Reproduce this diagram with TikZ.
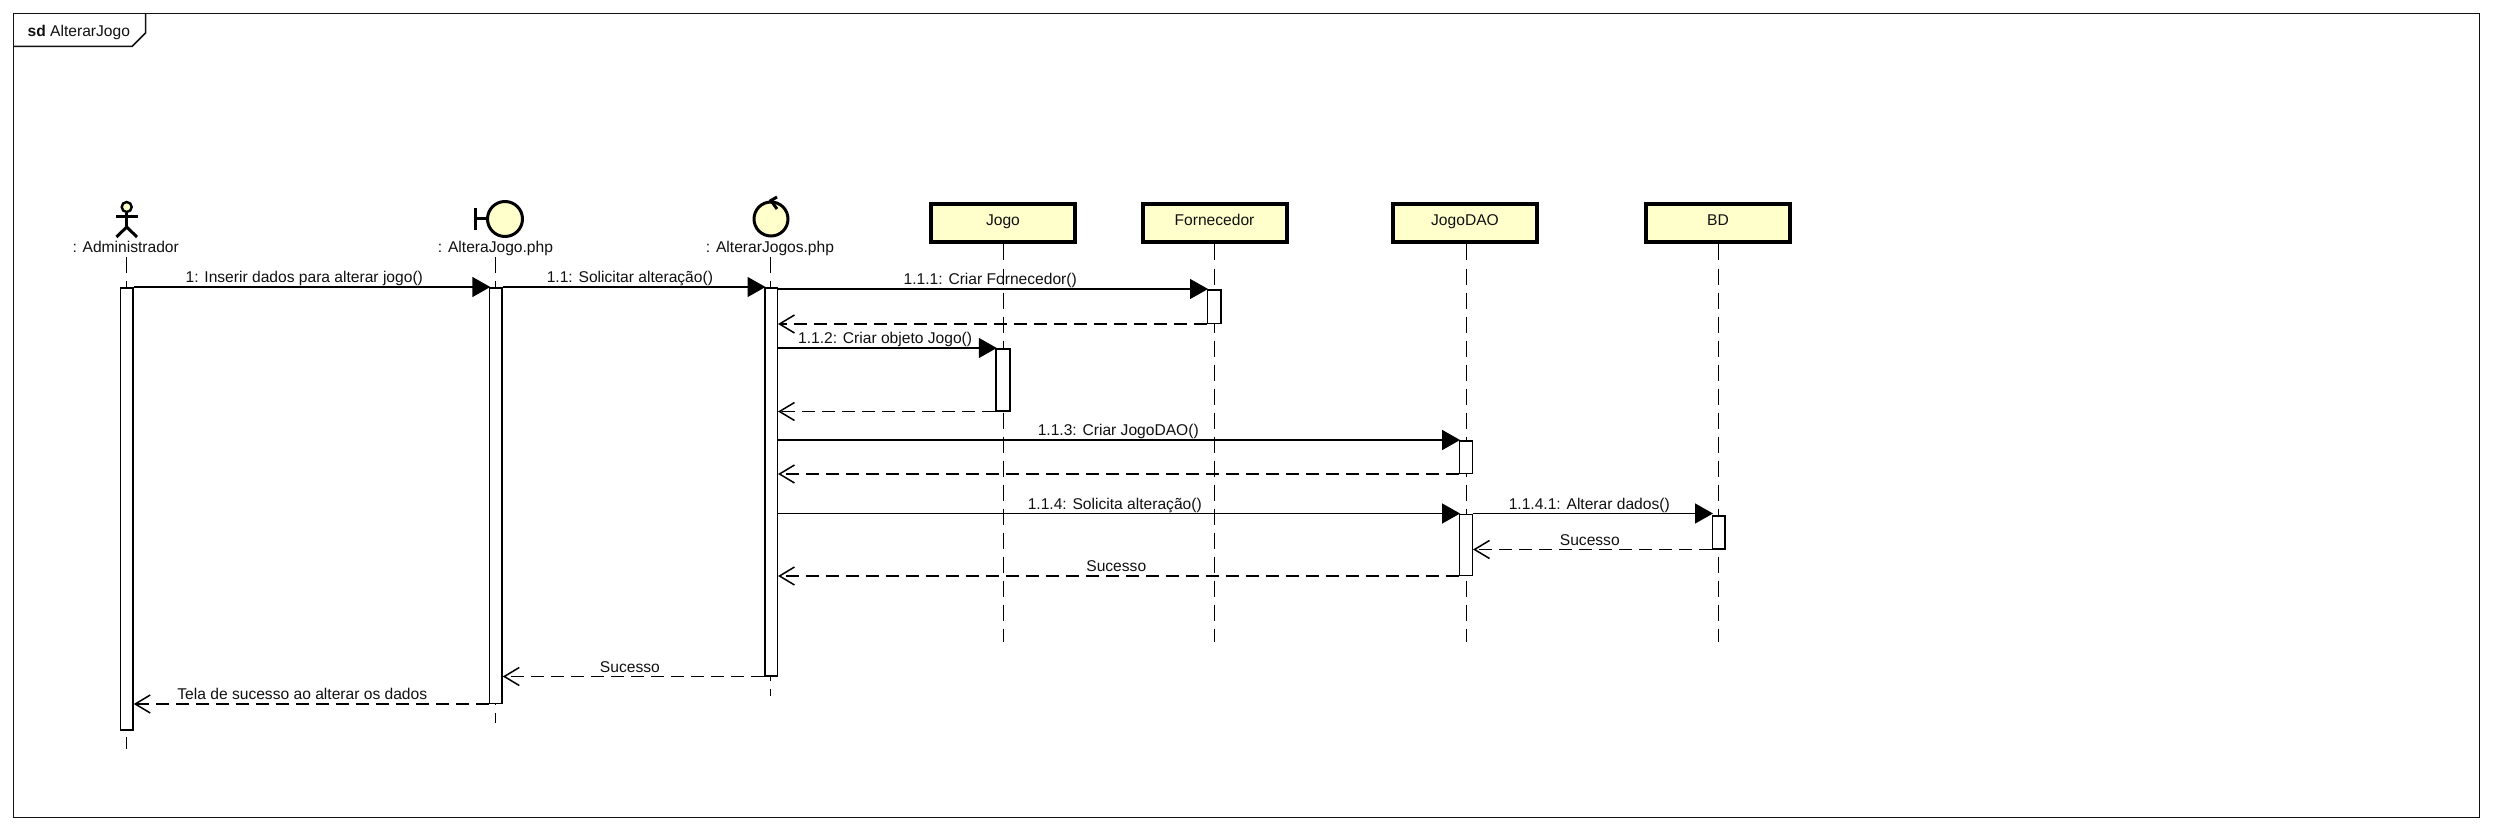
\documentclass[tikz,border=0pt]{standalone}
\usepackage{fontspec}
\setmainfont{Liberation Sans}
\usetikzlibrary{arrows.meta}
\definecolor{umlfill}{HTML}{FFFFCC}
\definecolor{ink}{HTML}{111111}
\tikzset{
  txt/.style={font=\fontsize{15.6pt}{18pt}\selectfont,text=ink,inner sep=0pt},
  objbox/.style={draw=black,line width=4pt,fill=umlfill,minimum width=144pt,minimum height=38pt,inner sep=0pt,txt,text height=10pt,text depth=6pt},
  actlabel/.style={txt,anchor=base,text height=11pt,text depth=4pt},
  lifeline/.style={draw=black,line width=1.5pt,dash pattern=on 16pt off 8pt},
  activation/.style={draw=black,line width=1.5pt,fill=white,minimum width=12.5pt,inner sep=0pt,anchor=north},
  call/.style={draw=black,line width=1.5pt,shorten >=-1.5pt,-{Triangle[length=18pt,width=20pt,fill=black]}},
  reply/.style={draw=black,line width=1.5pt,dash pattern=on 13pt off 7pt,-{Straight Barb[length=15pt,width=18pt,line width=1.5pt]}},
  msg/.style={txt,anchor=base,yshift=4.5pt},
  icon/.style={draw=black,line width=3pt,fill=umlfill,circle,inner sep=0pt},
  stick/.style={draw=black,line width=3pt}
}
\begin{document}
\begin{tikzpicture}[x=1pt,y=-1pt]
\useasboundingbox (0,0) rectangle (2493,829);
\fill[white] (0,0) rectangle (2493,829);
% frame
\draw[line width=1.5pt,draw=ink] (13.5,13.5) rectangle (2479.5,817.5);
\draw[line width=1.5pt,draw=ink] (13.5,46.5) -- (132,46.5) -- (145.5,33) -- (145.5,13.5);
\node[txt,anchor=base west] (title) at (27.5,36.5) {\textbf{sd} AlterarJogo};

% actor icon
\node[icon,line width=2.4pt,minimum size=10pt] (head) at (126.7,207) {};
\coordinate (hip) at (126.7,227);
\coordinate (armL) at (116,217);
\coordinate (armR) at (138,217);
\coordinate (legL) at (116.5,237);
\coordinate (legR) at (137,237);
\draw[stick] (head.south) -- (hip);
\draw[stick] (armL) -- (armR);
\draw[stick] (legL) -- (hip) -- (legR);
% boundary icon
\node[icon,minimum size=35pt] (bnd) at (505,219) {};
\coordinate (bndT) at (475,208);
\coordinate (bndB) at (475,230);
\coordinate (bndM) at (475,219);
\draw[stick] (bndT) -- (bndB);
\draw[stick] (bndM) -- (bnd.west);
% control icon
\node[icon,minimum size=34pt] (ctl) at (771,219) {};
\coordinate (ctlA) at (777,197);
\coordinate (ctlB) at (777,209);
\draw[stick] (ctlA) -- (ctl.north) -- (ctlB);

% heads
\node[actlabel] (adm) at (125.7,253) {: Administrador};
\node[actlabel] (frm) at (495.5,253) {: AlteraJogo.php};
\node[actlabel] (ctr) at (770,253) {: AlterarJogos.php};
\node[objbox] (jogo) at (1003,223.5) {Jogo};
\node[objbox] (forn) at (1214.5,223.5) {Fornecedor};
\node[objbox] (dao) at (1465,223.5) {JogoDAO};
\node[objbox] (bd) at (1718,223.5) {BD};

% lifeline ends
\coordinate (admE) at (126.5,749);
\coordinate (frmE) at (495.5,723);
\coordinate (ctrE) at (770.5,696);
\coordinate (jogoE) at (1003.5,642);
\coordinate (fornE) at (1214.5,642);
\coordinate (daoE) at (1466.5,642);
\coordinate (bdE) at (1718.5,642);
\draw[lifeline] (adm.south -| admE) -- (admE);
\draw[lifeline] (frm.south) -- (frmE);
\draw[lifeline] (ctr.south -| ctrE) -- (ctrE);
\draw[lifeline] (jogoE |- jogo.south) -- (jogoE);
\draw[lifeline] (fornE |- forn.south) -- (fornE);
\draw[lifeline] (daoE |- dao.south) -- (daoE);
\draw[lifeline] (bdE |- bd.south) -- (bdE);

% activations
\node[activation,minimum height=442pt] (aAdm) at (126.8,287) {};
\node[activation,minimum height=415.5pt] (aFrm) at (495.8,287) {};
\node[activation,minimum height=388pt] (aCtr) at (771,287) {};
\node[activation,minimum height=33.5pt,minimum width=13.5pt] (aForn) at (1214,289) {};
\node[activation,minimum height=62pt,minimum width=14pt] (aJogo) at (1003,348) {};
\node[activation,minimum height=32.5pt,minimum width=13pt] (aDao1) at (1465.8,440) {};
\node[activation,minimum height=61pt,minimum width=13pt] (aDao2) at (1465.8,513.5) {};
\node[activation,minimum height=33pt] (aBd) at (1718.5,515) {};

% messages
\draw[call] (aAdm.north east) -- node[msg,xshift=-7pt]{1: Inserir dados para alterar jogo()} (aFrm.north west);
\draw[call] (aFrm.north east) -- node[msg,xshift=-3.5pt]{1.1: Solicitar alteração()} (aCtr.north west);
\draw[call] (aCtr.east |- aForn.north) -- node[msg,xshift=-2pt]{1.1.1: Criar Fornecedor()} (aForn.north west);
\draw[reply] (aForn.south west) -- (aCtr.east |- aForn.south);
\draw[call] (aCtr.east |- aJogo.north) -- node[msg,xshift=-1.5pt]{1.1.2: Criar objeto Jogo()} (aJogo.north west);
\draw[reply] (aJogo.south west) -- (aCtr.east |- aJogo.south);
\draw[call] (aCtr.east |- aDao1.north) -- node[msg]{1.1.3: Criar JogoDAO()} (aDao1.north west);
\draw[reply] (aDao1.south west) -- (aCtr.east |- aDao1.south);
\draw[call] (aCtr.east |- aDao2.north) -- node[msg,xshift=-3.5pt]{1.1.4: Solicita alteração()} (aDao2.north west);
\draw[call] (aDao2.north east) -- node[msg,xshift=-3pt]{1.1.4.1: Alterar dados()} (aBd.west |- aDao2.north);
\draw[reply] (aBd.south west) -- node[msg,xshift=-2.5pt]{Sucesso} (aDao2.east |- aBd.south);
\draw[reply] (aDao2.south west) -- node[msg,xshift=-2pt]{Sucesso} (aCtr.east |- aDao2.south);
\draw[reply] (aCtr.south west) -- node[msg,xshift=-3.5pt]{Sucesso} (aFrm.east |- aCtr.south);
\draw[reply] (aFrm.south west) -- node[msg,xshift=-9pt]{Tela de sucesso ao alterar os dados} (aAdm.east |- aFrm.south);
\end{tikzpicture}
\end{document}
